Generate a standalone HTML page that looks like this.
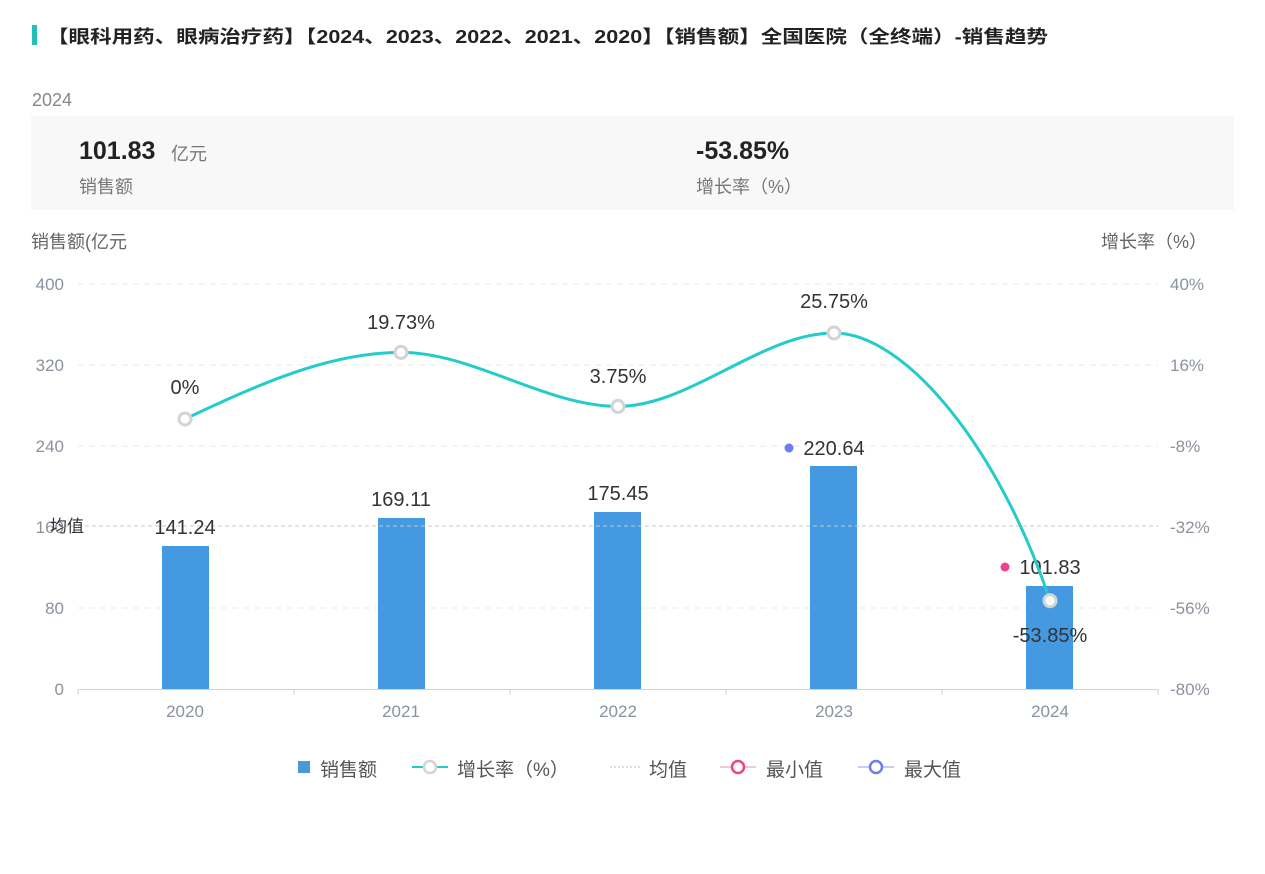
<!DOCTYPE html>
<html><head><meta charset="utf-8"><style>
body{margin:0;background:#fff;width:1265px;height:869px;overflow:hidden;font-family:"Liberation Sans","Noto Sans CJK SC",sans-serif}
</style></head><body>
<svg width="1265" height="869" xmlns="http://www.w3.org/2000/svg" font-family="Liberation Sans, Noto Sans CJK SC, sans-serif">
<rect x="32" y="25" width="5" height="20" fill="#22c1b2"/>
<text x="47" y="43" font-size="18" font-weight="bold" fill="#222" textLength="1001" lengthAdjust="spacingAndGlyphs">【眼科用药、眼病治疗药】【2024、2023、2022、2021、2020】【销售额】全国医院（全终端）-销售趋势</text>
<text x="32" y="106" font-size="18" fill="#888">2024</text>
<rect x="31" y="116" width="1203" height="94" fill="#f8f8f8"/>
<text x="79" y="159" font-size="25" font-weight="bold" fill="#222">101.83</text>
<text x="171" y="160" font-size="18" fill="#777">亿元</text>
<text x="79" y="193" font-size="18" fill="#777">销售额</text>
<text x="696" y="159" font-size="25" font-weight="bold" fill="#222">-53.85%</text>
<text x="696" y="193" font-size="18" fill="#777">增长率（%）</text>
<text x="31" y="248" font-size="18" fill="#666">销售额(亿元</text>
<text x="1207" y="248" font-size="18" fill="#666" text-anchor="end">增长率（%）</text>
<g stroke="#e6e9ee" stroke-dasharray="6,5">
<line x1="78" y1="284" x2="1158" y2="284"/><line x1="78" y1="365" x2="1158" y2="365"/>
<line x1="78" y1="446" x2="1158" y2="446"/><line x1="78" y1="608" x2="1158" y2="608"/>
</g>
<g font-size="17" fill="#8a929e" text-anchor="end">
<text x="64" y="290">400</text><text x="64" y="371">320</text><text x="64" y="452">240</text><text x="64" y="533">160</text><text x="64" y="614">80</text><text x="64" y="695">0</text>
</g>
<g font-size="17" fill="#8a929e">
<text x="1170" y="290">40%</text><text x="1170" y="371">16%</text><text x="1170" y="452">-8%</text><text x="1170" y="533">-32%</text><text x="1170" y="614">-56%</text><text x="1170" y="695">-80%</text>
</g>
<line x1="78" y1="689.5" x2="1158" y2="689.5" stroke="#ccd3dc"/>
<g stroke="#ccd3dc"><line x1="78" y1="689" x2="78" y2="695"/><line x1="294" y1="689" x2="294" y2="695"/><line x1="510" y1="689" x2="510" y2="695"/><line x1="726" y1="689" x2="726" y2="695"/><line x1="942" y1="689" x2="942" y2="695"/><line x1="1158" y1="689" x2="1158" y2="695"/></g>
<g font-size="17" fill="#8a929e" text-anchor="middle">
<text x="185" y="717">2020</text><text x="401" y="717">2021</text><text x="618" y="717">2022</text><text x="834" y="717">2023</text><text x="1050" y="717">2024</text>
</g>
<g fill="#4599e0">
<rect x="162" y="546" width="47" height="143"/><rect x="378" y="518" width="47" height="171"/>
<rect x="594" y="512" width="47" height="177"/><rect x="810" y="466" width="47" height="223"/>
<rect x="1026" y="586" width="47" height="103"/>
</g>
<line x1="50" y1="526" x2="1158" y2="526" stroke="#c8c8c8" stroke-dasharray="4,3"/>
<text x="50" y="532" font-size="17" fill="#333">均值</text>
<g font-size="20" fill="#333" text-anchor="middle">
<text x="185" y="534">141.24</text><text x="401" y="506">169.11</text><text x="618" y="500">175.45</text><text x="834" y="455">220.64</text>
<text x="1050" y="574">101.83</text>
</g>
<circle cx="789" cy="448" r="4.5" fill="#6f7cf0"/>
<circle cx="1005" cy="567" r="4.5" fill="#f0418a"/>
<path d="M185,419 C257,385 329,352.4 401,352.4 C473,352.4 546,406.4 618,406.4 C690,406.4 762,333 834,333 C906,333 1000,450 1050,600.7" fill="none" stroke="#24cbcb" stroke-width="3"/>
<g fill="#fff" stroke="#d4d4d4" stroke-width="3">
<circle cx="185" cy="419" r="6"/><circle cx="401" cy="352.4" r="6"/><circle cx="618" cy="406.4" r="6"/><circle cx="834" cy="333" r="6"/><circle cx="1050" cy="600.7" r="6"/>
</g>
<g font-size="20" fill="#333" text-anchor="middle">
<text x="185" y="394">0%</text><text x="401" y="329">19.73%</text><text x="618" y="383">3.75%</text><text x="834" y="308">25.75%</text><text x="1050" y="642">-53.85%</text>
</g>
<g font-size="19" fill="#555">
<rect x="298" y="761" width="12" height="12" fill="#4599e0"/>
<text x="320" y="776">销售额</text>
<line x1="412" y1="767" x2="448" y2="767" stroke="#24cbcb" stroke-width="2"/>
<circle cx="430" cy="767" r="6" fill="#fff" stroke="#d4d4d4" stroke-width="2.5"/>
<text x="457" y="776">增长率（%）</text>
<line x1="610" y1="767" x2="642" y2="767" stroke="#bbb" stroke-dasharray="2,2"/>
<text x="649" y="776">均值</text>
<line x1="720" y1="767" x2="756" y2="767" stroke="#f0c8d8" stroke-width="2"/>
<circle cx="738" cy="767" r="6" fill="#fff" stroke="#f0418a" stroke-width="2.5"/>
<text x="766" y="776">最小值</text>
<line x1="858" y1="767" x2="894" y2="767" stroke="#c8cbf2" stroke-width="2"/>
<circle cx="876" cy="767" r="6" fill="#fff" stroke="#6f7cf0" stroke-width="2.5"/>
<text x="904" y="776">最大值</text>
</g>
</svg>
</body></html>
